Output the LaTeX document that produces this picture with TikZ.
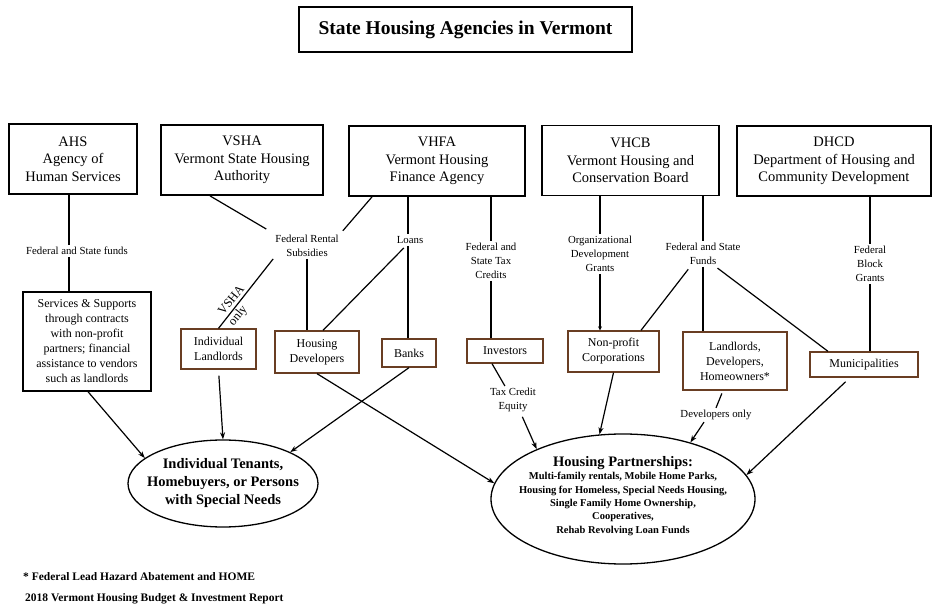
\documentclass[tikz,border=0pt]{standalone}
\usepackage{fontspec}
\setmainfont{Liberation Serif}
\usetikzlibrary{arrows.meta,calc,shapes.geometric}
\definecolor{boxbrown}{RGB}{105,62,35}
\begin{document}
\begin{tikzpicture}[x=1pt,y=-1pt,
  topbox/.style={draw,line width=1.8pt,align=center,inner sep=2pt,minimum height=70pt,font=\fontsize{14.5}{17.5}\selectfont},
  lowbox/.style={draw=boxbrown,line width=1.3pt,align=center,inner sep=2pt,font=\fontsize{12}{15}\selectfont},
  lbl/.style={align=center,inner sep=2pt,font=\fontsize{10.8}{13.8}\selectfont},
  conn/.style={line width=1.2pt},
  arr/.style={line width=1.2pt,-{Stealth[length=7pt,width=5pt]}},
  oval/.style={draw,ellipse,line width=1.3pt,inner sep=0pt},
  slant/.style={rotate=51,font=\fontsize{12.5}{14}\selectfont}
]
\useasboundingbox (0,0) rectangle (938,609);
\node[draw,line width=1.8pt,minimum width=333pt,minimum height=45pt,font=\bfseries\fontsize{19.5}{22}\selectfont] (title) at (465.5,29.5) {State Housing Agencies in Vermont};

% top agencies
\node[topbox,minimum width=128pt] (ahs) at (73,159) {AHS\\Agency of\\Human Services};
\node[topbox,minimum width=162pt] (vsha) at (242,160) {VSHA\\Vermont State Housing\\Authority};
\node[topbox,minimum width=176pt] (vhfa) at (437,161) {VHFA\\Vermont Housing\\Finance Agency};
\node[topbox,minimum width=177pt] (vhcb) at (630.5,160.5) {VHCB\\Vermont Housing and\\Conservation Board};
\node[topbox,minimum width=194pt] (dhcd) at (834,161) {DHCD\\Department of Housing and\\Community Development};

% labels
\node[lbl] (fsfa) at (77,251) {Federal and State funds};
\node[lbl] (frs) at (307,246) {Federal Rental\\Subsidies};
\node[lbl] (loans) at (410,240) {Loans};
\node[lbl] (fstc) at (491,261) {Federal and\\State Tax\\Credits};
\node[lbl] (odg) at (600,254) {Organizational\\Development\\Grants};
\node[lbl] (fsfb) at (703,254) {Federal and State\\Funds};
\node[lbl] (fbg) at (870,264) {Federal\\Block\\Grants};
\node[lbl] (tce) at (513,400) {Tax Credit\\Equity};
\node[lbl] (dvo) at (716,415) {Developers only};

% lower boxes
\node[lowbox,draw=black,line width=1.4pt,minimum width=128pt,minimum height=99pt] (svc) at (87,341.5) {Services \& Supports\\through contracts\\with non-profit\\partners; financial\\assistance to vendors\\such as landlords};
\node[lowbox,minimum width=75pt,minimum height=40pt] (il) at (218.5,349) {Individual\\Landlords};
\node[lowbox,minimum width=84pt,minimum height=42pt] (hd) at (317,352) {Housing\\Developers};
\node[lowbox,minimum width=54pt,minimum height=28pt] (banks) at (409,353) {Banks};
\node[lowbox,minimum width=76pt,minimum height=24pt] (inv) at (505,351) {Investors};
\node[lowbox,minimum width=91pt,minimum height=41pt] (npc) at (613.5,351.5) {Non-profit\\Corporations};
\node[lowbox,minimum width=104pt,minimum height=58pt] (ldh) at (735,361) {Landlords,\\Developers,\\Homeowners*};
\node[lowbox,minimum width=108pt,minimum height=25pt] (mun) at (864,364.5) {Municipalities};

% ellipses
\node[oval,minimum width=190pt,minimum height=87pt] (ten) at (223,483.5) {};
\node[align=center,font=\bfseries\fontsize{14.5}{18}\selectfont] (tentxt) at (ten.center) {Individual Tenants,\\Homebuyers, or Persons\\with Special Needs};
\node[oval,minimum width=264pt,minimum height=130pt] (hp) at (623,499) {};
\node[align=center,font=\bfseries\fontsize{10.5}{13.3}\selectfont] (hptxt) at (623,496) {{\fontsize{14.5}{16}\selectfont Housing Partnerships:}\\Multi-family rentals, Mobile Home Parks,\\Housing for Homeless, Special Needs Housing,\\Single Family Home Ownership,\\Cooperatives,\\Rehab Revolving Loan Funds};

% footnotes
\node[anchor=west,inner sep=0pt,font=\bfseries\fontsize{11.5}{13}\selectfont] (fn1) at (23,577) {* Federal Lead Hazard Abatement and HOME};
\node[anchor=west,inner sep=0pt,font=\bfseries\fontsize{11.5}{13}\selectfont] (fn2) at (25,599) {2018 Vermont Housing Budget \& Investment Report};

% helper x positions
\coordinate (xa) at (69,0);
\coordinate (xb) at (210,0);
\coordinate (xc) at (372,0);
\coordinate (xd) at (408,0);
\coordinate (xe) at (323,0);
\coordinate (xg) at (641,0);
\coordinate (xh) at (828,0);
\coordinate (xi) at (88,0);
\coordinate (xj) at (492,0);
\coordinate (xl) at (723,0);
\coordinate (xm) at (704,0);
\coordinate (xn) at (850,0);

% connectors
\draw[conn] (ahs.south -| xa) -- (fsfa.north -| xa);
\draw[conn] (fsfa.south -| xa) -- (svc.north -| xa);
\draw[conn,shorten >=8pt] (vsha.south -| xb) -- (frs.north west);
\draw[conn,shorten >=3pt] (vhfa.south -| xc) -- (frs.north east);
\draw[conn] (il.north) -- (frs.south west);
\node[slant,anchor=south,inner sep=3.5pt] (vshaonly1) at ($(il.north)!.34!(frs.south west)$) {VSHA};
\node[slant,anchor=north,inner sep=2pt] (vshaonly2) at ($(il.north)!.25!(frs.south west)$) {only};
\draw[conn] (frs.south) -- (hd.north -| frs.south);
\draw[conn] (vhfa.south -| xd) -- (loans.north -| xd);
\draw[conn] (loans.south -| xd) -- (banks.north -| xd);
\draw[conn,shorten <=3pt] (loans.235) -- (hd.north -| xe);
\draw[conn] (vhfa.south -| fstc.north) -- (fstc.north);
\draw[conn] (fstc.south) -- (inv.north -| fstc.south);
\draw[conn] (vhcb.south -| odg.north) -- (odg.north);
\draw[line width=1.2pt,-{Stealth[length=4pt,width=4pt]}] (odg.south) -- (npc.north -| odg.south);
\draw[conn] (vhcb.south -| fsfb.north) -- (fsfb.north);
\draw[conn] (fsfb.south) -- (ldh.north -| fsfb.south);
\draw[conn,shorten <=3pt] (fsfb.225) -- (npc.north -| xg);
\draw[conn,shorten <=2pt] (fsfb.315) -- (mun.north -| xh);
\draw[conn] (dhcd.south -| fbg.north) -- (fbg.north);
\draw[conn] (fbg.south) -- (mun.north -| fbg.south);

% arrows to ellipses
\draw[arr] (svc.south -| xi) -- (ten.162);
\draw[arr,shorten <=6pt] (il.south) -- (ten.north);
\draw[arr] (banks.south) -- (ten.25);
\draw[arr] (hd.south) -- (hp.173);
\draw[conn] (inv.south -| xj) -- (tce.120);
\draw[arr,shorten <=3pt] (tce.300) -- (hp.150);
\draw[arr] (npc.south) -- (hp.110);
\draw[conn,shorten <=3pt] (ldh.south -| xl) -- (dvo.north);
\draw[arr] (dvo.south -| xm) -- (hp.40);
\draw[arr,shorten <=6pt] (mun.south -| xn) -- (hp.11);
\end{tikzpicture}
\end{document}
